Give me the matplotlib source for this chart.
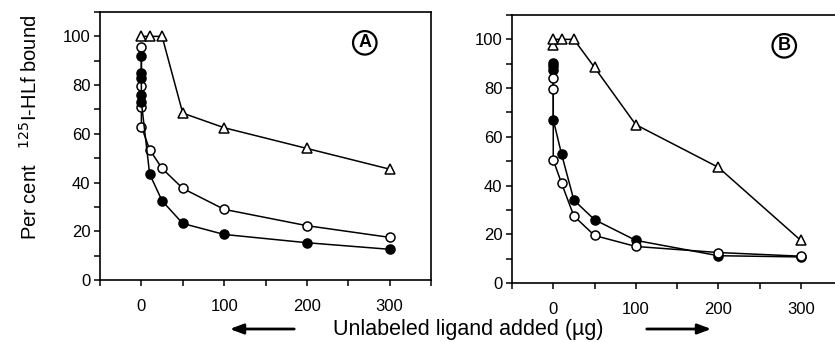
import matplotlib.pyplot as plt
from matplotlib.ticker import MultipleLocator

plt.rcParams['font.family'] = ['Liberation Sans', 'DejaVu Sans']

# Panel A data (Unlabeled ligand added, ug -> per cent bound)
a_tri_x = [0, 10, 25, 50, 100, 200, 300]
a_tri_y = [100, 100, 100, 68.5, 62.5, 54, 45.5]
a_open_x = [0, 0, 0, 0, 10, 25, 50, 100, 200, 300]
a_open_y = [95.5, 79.5, 71, 63, 53.5, 45.8, 37.6, 29, 22.3, 17.5]
a_fill_x = [0, 0, 0, 0, 0, 10, 25, 50, 100, 200, 300]
a_fill_y = [92, 85, 83, 76, 73, 43.5, 32.5, 23.2, 18.7, 15.3, 12.6]

# Panel B data
b_tri_x = [0, 0, 10, 25, 50, 100, 200, 300]
b_tri_y = [97.5, 100, 100, 100, 88.5, 65, 47.5, 17.5]
b_fill_x = [0, 0, 0, 0, 10, 25, 50, 100, 200, 300]
b_fill_y = [90.5, 89, 87.5, 67, 53, 34, 26, 17.5, 11.2, 10.7]
b_open_x = [0, 0, 0, 10, 25, 50, 100, 200, 300]
b_open_y = [84, 79.5, 50.5, 41, 27.5, 19.5, 15, 12.5, 11]

x_ticks = [0, 100, 200, 300]
y_ticks = [0, 20, 40, 60, 80, 100]

W, H = 835, 342
fig = plt.figure(figsize=(W / 100, H / 100), dpi=100)


def box(l, t, r, b):
    return [l / W, 1 - b / H, (r - l) / W, (b - t) / H]


axA = fig.add_axes(box(100, 12, 431, 280))
axB = fig.add_axes(box(512, 15, 842, 283))

panels = [
    (axA, [(a_tri_x, a_tri_y, '^', 'white'), (a_open_x, a_open_y, 'o', 'white'),
           (a_fill_x, a_fill_y, 'o', 'black')], 'A'),
    (axB, [(b_tri_x, b_tri_y, '^', 'white'), (b_fill_x, b_fill_y, 'o', 'black'),
           (b_open_x, b_open_y, 'o', 'white')], 'B'),
]

for ax, series, letter in panels:
    for xs, ys, m, fc in series:
        ax.plot(xs, ys, color='black', lw=1.1, marker=m, ms=6.5 if m == 'o' else 7,
                mfc=fc, mec='black', mew=1.1, clip_on=False)
    ax.set_xlim(-50, 350)
    ax.set_ylim(0, 110)
    ax.set_xticks(x_ticks)
    ax.set_yticks(y_ticks)
    ax.xaxis.set_minor_locator(MultipleLocator(50))
    ax.yaxis.set_minor_locator(MultipleLocator(10))
    ax.tick_params(which='both', direction='out', length=4, width=1.1,
                   labelsize=12, pad=3)
    ax.tick_params(axis='x', pad=10)
    for s in ax.spines.values():
        s.set_linewidth(1.2)
    ax.text(0.80 if letter == 'A' else 0.825, 0.885, letter, transform=ax.transAxes,
            ha='center', va='center', fontsize=13, fontweight='bold',
            bbox=dict(boxstyle='circle,pad=0.18', fc='white', ec='black', lw=1.6))

axB.spines['right'].set_visible(False)

fig.text(30 / W, 1 - 127 / H, 'Per cent   $^{125}$I-HLf bound', rotation=90,
         ha='center', va='center', fontsize=14.5)
fig.text(468 / W, 1 - 329 / H, 'Unlabeled ligand added (\u00b5g)',
         ha='center', va='center', fontsize=15.5)

arrow = dict(arrowstyle='-|>,head_length=0.8,head_width=0.3', color='black', lw=2)
axA.annotate('', xy=(227 / W, 1 - 329 / H), xytext=(297 / W, 1 - 329 / H),
             xycoords='figure fraction', arrowprops=arrow, annotation_clip=False)
axA.annotate('', xy=(714 / W, 1 - 329 / H), xytext=(644 / W, 1 - 329 / H),
             xycoords='figure fraction', arrowprops=arrow, annotation_clip=False)

fig.savefig('out.png', dpi=100)
